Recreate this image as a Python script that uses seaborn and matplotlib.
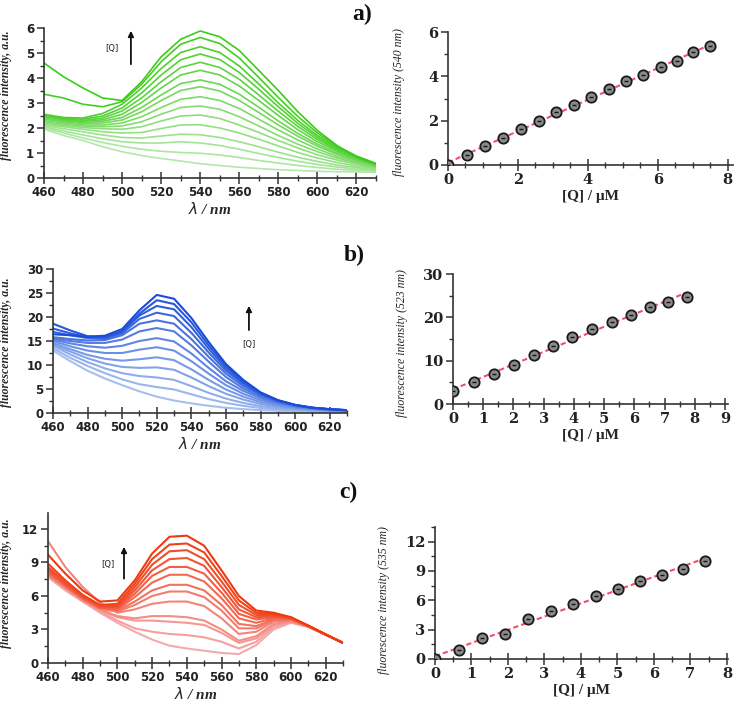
import matplotlib
matplotlib.use("Agg")
import matplotlib.pyplot as plt
from matplotlib.ticker import MultipleLocator
from matplotlib.colors import to_rgb
import seaborn as sns
import pandas as pd
import numpy as np

# wavelength grid (nm) shared by all spectra
wl = [460, 470, 480, 490, 500, 510, 520, 530, 540, 550, 560, 570, 580, 590, 600, 610, 620, 630]

# a) green spectra, highest [Q] first
green_spectra = [
    [4.60, 4.05, 3.60, 3.20, 3.10, 3.85, 4.85, 5.55, 5.88, 5.65, 5.10, 4.30, 3.50, 2.65, 1.90, 1.30, 0.85, 0.55],
    [3.35, 3.20, 2.95, 2.85, 3.05, 3.75, 4.65, 5.35, 5.62, 5.38, 4.80, 4.02, 3.22, 2.46, 1.80, 1.27, 0.88, 0.58],
    [2.55, 2.42, 2.40, 2.58, 2.95, 3.60, 4.38, 5.02, 5.25, 5.02, 4.48, 3.76, 3.00, 2.30, 1.70, 1.22, 0.86, 0.58],
    [2.50, 2.38, 2.35, 2.48, 2.80, 3.40, 4.12, 4.73, 4.96, 4.74, 4.22, 3.55, 2.85, 2.18, 1.62, 1.17, 0.83, 0.56],
    [2.48, 2.35, 2.30, 2.40, 2.68, 3.20, 3.85, 4.42, 4.63, 4.42, 3.95, 3.32, 2.67, 2.06, 1.54, 1.12, 0.80, 0.54],
    [2.45, 2.32, 2.27, 2.33, 2.55, 3.02, 3.60, 4.12, 4.31, 4.12, 3.68, 3.10, 2.50, 1.93, 1.45, 1.07, 0.77, 0.52],
    [2.40, 2.28, 2.22, 2.27, 2.42, 2.82, 3.32, 3.78, 3.92, 3.75, 3.35, 2.83, 2.28, 1.78, 1.35, 1.00, 0.73, 0.50],
    [2.35, 2.25, 2.18, 2.20, 2.32, 2.65, 3.10, 3.50, 3.65, 3.48, 3.10, 2.62, 2.12, 1.67, 1.27, 0.95, 0.70, 0.48],
    [2.30, 2.20, 2.12, 2.12, 2.20, 2.45, 2.82, 3.15, 3.25, 3.10, 2.78, 2.35, 1.92, 1.52, 1.16, 0.87, 0.65, 0.46],
    [2.25, 2.15, 2.08, 2.05, 2.08, 2.25, 2.55, 2.82, 2.88, 2.75, 2.45, 2.08, 1.70, 1.35, 1.05, 0.80, 0.60, 0.43],
    [2.20, 2.10, 2.02, 1.97, 1.95, 2.05, 2.28, 2.48, 2.52, 2.38, 2.12, 1.82, 1.50, 1.20, 0.93, 0.72, 0.55, 0.40],
    [2.15, 2.05, 1.95, 1.85, 1.80, 1.82, 1.98, 2.12, 2.13, 2.00, 1.80, 1.55, 1.28, 1.02, 0.80, 0.62, 0.48, 0.37],
    [2.10, 1.97, 1.85, 1.72, 1.62, 1.60, 1.68, 1.75, 1.73, 1.62, 1.45, 1.25, 1.03, 0.83, 0.66, 0.52, 0.42, 0.33],
    [2.05, 1.88, 1.72, 1.57, 1.45, 1.40, 1.40, 1.45, 1.40, 1.30, 1.15, 0.98, 0.82, 0.67, 0.54, 0.44, 0.36, 0.30],
    [2.00, 1.80, 1.60, 1.42, 1.27, 1.15, 1.07, 1.02, 0.99, 0.92, 0.82, 0.70, 0.60, 0.50, 0.42, 0.35, 0.30, 0.27],
    [1.95, 1.70, 1.50, 1.25, 1.05, 0.90, 0.78, 0.68, 0.57, 0.50, 0.43, 0.38, 0.33, 0.30, 0.27, 0.25, 0.24, 0.23],
]

# b) blue spectra
blue_spectra = [
    [16.4, 16.2, 15.9, 16.1, 17.5, 21.4, 24.6, 23.8, 19.8, 14.8, 10.2, 6.9, 4.3, 2.70, 1.70, 1.10, 0.80, 0.60],
    [18.6, 17.2, 16.0, 15.8, 17.1, 20.7, 23.5, 22.7, 18.9, 14.1, 9.8, 6.6, 4.2, 2.62, 1.68, 1.10, 0.79, 0.59],
    [17.6, 16.6, 15.8, 15.7, 16.9, 20.3, 22.3, 21.6, 17.9, 13.4, 9.3, 6.3, 4.0, 2.55, 1.65, 1.10, 0.78, 0.58],
    [16.9, 16.2, 15.6, 15.5, 16.6, 19.6, 20.9, 20.2, 16.7, 12.6, 8.8, 6.0, 3.9, 2.50, 1.60, 1.08, 0.77, 0.57],
    [15.8, 15.4, 15.1, 15.2, 16.2, 18.6, 19.3, 18.6, 15.4, 11.7, 8.2, 5.6, 3.7, 2.40, 1.55, 1.05, 0.75, 0.55],
    [15.5, 15.0, 14.6, 14.6, 15.3, 17.0, 17.7, 17.0, 14.1, 10.7, 7.5, 5.1, 3.4, 2.20, 1.45, 1.00, 0.72, 0.53],
    [15.3, 14.5, 13.9, 13.6, 14.0, 15.0, 15.6, 14.9, 12.4, 9.4, 6.6, 4.6, 3.1, 2.00, 1.35, 0.92, 0.67, 0.50],
    [15.0, 13.9, 13.0, 12.5, 12.5, 13.2, 13.7, 13.0, 10.8, 8.2, 5.8, 4.0, 2.7, 1.80, 1.20, 0.85, 0.62, 0.47],
    [14.6, 13.3, 12.1, 11.3, 10.9, 11.2, 11.6, 11.0, 9.1, 6.9, 4.9, 3.4, 2.3, 1.55, 1.05, 0.75, 0.55, 0.42],
    [14.3, 12.8, 11.4, 10.3, 9.6, 9.4, 9.5, 9.0, 7.4, 5.6, 4.0, 2.8, 1.9, 1.30, 0.90, 0.65, 0.48, 0.38],
    [14.0, 12.2, 10.6, 9.3, 8.3, 7.7, 7.4, 6.9, 5.6, 4.2, 3.0, 2.1, 1.45, 1.00, 0.72, 0.53, 0.40, 0.32],
    [13.5, 11.5, 9.8, 8.3, 7.0, 6.0, 5.4, 4.9, 3.9, 2.9, 2.1, 1.5, 1.05, 0.75, 0.55, 0.42, 0.33, 0.27],
    [13.0, 10.8, 8.8, 7.2, 5.8, 4.5, 3.4, 2.6, 2.0, 1.5, 1.1, 0.8, 0.60, 0.45, 0.35, 0.30, 0.25, 0.20],
]

# c) red spectra
red_spectra = [
    [9.70, 8.00, 6.50, 5.50, 5.60, 7.40, 9.80, 11.3, 11.4, 10.5, 8.30, 6.00, 4.70, 4.50, 4.10, 3.35, 2.55, 1.80],
    [8.90, 7.40, 6.10, 5.20, 5.30, 7.10, 9.30, 10.6, 10.7, 9.90, 7.80, 5.60, 4.50, 4.40, 4.08, 3.34, 2.55, 1.80],
    [8.60, 7.20, 6.00, 5.10, 5.10, 6.80, 8.80, 10.0, 10.1, 9.30, 7.30, 5.20, 4.30, 4.30, 4.05, 3.33, 2.55, 1.80],
    [8.40, 7.05, 5.90, 5.00, 5.00, 6.50, 8.30, 9.30, 9.40, 8.70, 6.80, 4.80, 4.10, 4.20, 4.00, 3.32, 2.55, 1.80],
    [8.25, 7.00, 5.85, 5.00, 4.90, 6.20, 7.80, 8.60, 8.60, 8.00, 6.30, 4.40, 3.90, 4.10, 4.00, 3.31, 2.55, 1.80],
    [8.15, 6.95, 5.80, 4.95, 4.80, 5.90, 7.20, 7.90, 7.90, 7.30, 5.80, 4.00, 3.60, 4.00, 3.95, 3.30, 2.55, 1.80],
    [8.05, 6.90, 5.75, 4.90, 4.70, 5.50, 6.50, 7.00, 7.00, 6.50, 5.20, 3.50, 3.30, 3.90, 3.90, 3.29, 2.55, 1.80],
    [7.95, 6.80, 5.70, 4.85, 4.60, 5.20, 6.00, 6.40, 6.40, 5.90, 4.70, 3.10, 3.10, 3.80, 3.85, 3.28, 2.55, 1.80],
    [10.9, 8.60, 6.80, 5.40, 4.50, 4.80, 5.30, 5.50, 5.50, 5.10, 4.00, 2.60, 2.80, 3.70, 3.80, 3.27, 2.55, 1.80],
    [7.85, 6.75, 5.65, 4.80, 4.20, 4.00, 4.20, 4.20, 4.10, 3.80, 3.00, 2.00, 2.40, 3.50, 3.75, 3.26, 2.55, 1.80],
    [7.80, 6.70, 5.60, 4.70, 4.10, 3.80, 3.80, 3.70, 3.60, 3.40, 2.70, 1.80, 2.20, 3.40, 3.70, 3.25, 2.55, 1.80],
    [7.75, 6.60, 5.55, 4.60, 3.80, 3.10, 2.80, 2.60, 2.50, 2.30, 1.90, 1.30, 1.90, 3.20, 3.65, 3.24, 2.55, 1.80],
    [7.70, 6.50, 5.50, 4.50, 3.60, 2.80, 2.10, 1.55, 1.30, 1.10, 0.90, 0.80, 1.60, 3.00, 3.60, 3.23, 2.55, 1.80],
]

# titration points, intensity at the peak vs [Q]
q_a = [0, 0.54, 1.06, 1.57, 2.09, 2.60, 3.10, 3.60, 4.08, 4.59, 5.09, 5.59, 6.08, 6.55, 7.01, 7.50]
i_a = [0, 0.45, 0.86, 1.24, 1.61, 1.99, 2.37, 2.70, 3.06, 3.42, 3.77, 4.07, 4.40, 4.70, 5.08, 5.35]
q_b = [0, 0.70, 1.35, 2.01, 2.67, 3.31, 3.95, 4.59, 5.25, 5.89, 6.51, 7.13, 7.73]
i_b = [3.0, 5.0, 7.0, 9.0, 11.2, 13.4, 15.4, 17.4, 19.0, 20.5, 22.3, 23.6, 24.8]
q_c = [0, 0.66, 1.30, 1.93, 2.55, 3.17, 3.79, 4.41, 5.02, 5.62, 6.21, 6.81, 7.40]
i_c = [0, 0.95, 2.14, 2.59, 4.08, 4.93, 5.61, 6.46, 7.21, 7.93, 8.61, 9.25, 10.07]

SERIF = "Liberation Serif"


def gradient(dark, light, n):
    d, l = np.array(to_rgb(dark)), np.array(to_rgb(light))
    return [tuple(d + (l - d) * k / (n - 1)) for k in range(n)]


def spectra_frame(curves):
    rows = []
    for k, curve in enumerate(curves):
        for w, v in zip(wl, curve):
            rows.append({"wl": w, "I": v, "curve": k})
    return pd.DataFrame(rows)


sns.set_style("white")
plt.rcParams["axes.linewidth"] = 1.2
fig = plt.figure(figsize=(7.36, 7.02), dpi=100)

W, H = 736, 702


def axes_px(x0, x1, ytop, ybot):
    return fig.add_axes([x0 / W, (H - ybot) / H, (x1 - x0) / W, (ybot - ytop) / H])


def style_axes(ax, left_panel):
    sns.despine(ax=ax)
    for s in ("left", "bottom"):
        ax.spines[s].set_color("#333333")
    ax.tick_params(axis="y", which="major", direction="out", length=5, width=1.1, color="#333333", pad=2)
    ax.tick_params(axis="y", which="minor", direction="out", length=3, width=1.0, color="#333333")
    ax.tick_params(axis="x", which="major", direction="inout", length=8, width=1.1, color="#333333", pad=2)
    ax.tick_params(axis="x", which="minor", direction="inout", length=5, width=1.0, color="#333333")
    ax.tick_params(which="both", left=True, bottom=True)
    if left_panel:
        for lab in ax.get_xticklabels() + ax.get_yticklabels():
            lab.set_fontfamily("DejaVu Sans")
            lab.set_fontweight("bold")
            lab.set_fontsize(8.5)
            lab.set_color("#222222")
    else:
        for lab in ax.get_xticklabels() + ax.get_yticklabels():
            lab.set_fontfamily("DejaVu Serif")
            lab.set_fontweight("bold")
            lab.set_fontsize(10.5)
            lab.set_color("#222222")


def spectra_panel(ax, curves, dark, light, ylim, ymaj, ymin, arrow, qpos, lw):
    df = spectra_frame(curves)
    cols = gradient(dark, light, len(curves))
    order = list(range(len(curves)))[::-1]
    sns.lineplot(data=df, x="wl", y="I", hue="curve", hue_order=order,
                 palette={k: cols[k] for k in order}, legend=False, ax=ax,
                 linewidth=lw, estimator=None)
    ax.set_xlim(460, 630)
    ax.set_ylim(*ylim)
    ax.xaxis.set_major_locator(MultipleLocator(20))
    ax.xaxis.set_minor_locator(MultipleLocator(10))
    ax.yaxis.set_major_locator(MultipleLocator(ymaj))
    ax.yaxis.set_minor_locator(MultipleLocator(ymin))
    ax.set_xlabel(r"$\lambda$ / nm", fontsize=11, fontstyle="italic",
                  fontweight="bold", family=SERIF, labelpad=1)
    ax.set_ylabel("fluorescence intensity, a.u.", fontsize=8.5, fontstyle="italic",
                  fontweight="bold", family=SERIF)
    ax.annotate("", xy=(arrow[0], arrow[2]), xytext=(arrow[0], arrow[1]),
                arrowprops=dict(arrowstyle="-|>", color="#111111", lw=1.3, mutation_scale=8))
    ax.text(qpos[0], qpos[1], "[Q]", fontsize=6, ha="center", va="center", color="#222222")
    style_axes(ax, True)


def titration_panel(ax, q, i, xlim, xmaj, ylim, ymaj, ymin, ylabel):
    pts = pd.DataFrame({"Q": q, "I": i})
    sns.regplot(data=pts, x="Q", y="I", ax=ax, scatter=False, ci=None,
                line_kws=dict(color="#f0506e", lw=1.5, ls=(0, (2.5, 1.5))))
    sns.scatterplot(data=pts, x="Q", y="I", ax=ax, s=55, color="#8a8a8a",
                    edgecolor="#1a1a1a", linewidth=1.3, zorder=3)
    sns.scatterplot(data=pts, x="Q", y="I", ax=ax, s=10, marker="_", color="#111111",
                    linewidth=1.0, zorder=4)
    ax.set_xlim(*xlim)
    ax.set_ylim(*ylim)
    ax.xaxis.set_major_locator(MultipleLocator(xmaj))
    ax.xaxis.set_minor_locator(MultipleLocator(0.5))
    ax.yaxis.set_major_locator(MultipleLocator(ymaj))
    ax.yaxis.set_minor_locator(MultipleLocator(ymin))
    ax.set_xlabel("[Q] / \u03bcM", fontsize=11, fontweight="bold", family=SERIF, labelpad=2)
    ax.set_ylabel(ylabel, fontsize=8.5, fontstyle="italic", family=SERIF)
    style_axes(ax, False)


# a)
ax = axes_px(44, 376, 28, 178)
spectra_panel(ax, green_spectra, "#3ccc18", "#b4e8aa", (0, 6), 1, 0.5,
              (504.5, 4.44, 6.0), (494.8, 5.16), 1.2)
ax.yaxis.set_label_coords(-0.097, 0.55)
ax = axes_px(448, 733, 32, 165)
titration_panel(ax, q_a, i_a, (0, 8.15), 2, (0, 6), 2, 1, "fluorescence intensity (540 nm)")
ax.yaxis.set_label_coords(-0.151, 0.47)

# b)
ax = axes_px(53, 347, 269, 413)
spectra_panel(ax, blue_spectra, "#1a4cd8", "#a6c0ee", (0, 30), 5, 2.5,
              (573.3, 16.7, 22.9), (573.3, 14.2), 1.5)
ax.yaxis.set_label_coords(-0.141, 0.49)
ax = axes_px(453, 728, 274, 404)
titration_panel(ax, q_b, i_b, (0, 9.1), 1, (0, 30), 10, 5, "fluorescence intensity (523 nm)")
ax.yaxis.set_label_coords(-0.164, 0.47)

# c)
ax = axes_px(48, 343, 513, 663)
spectra_panel(ax, red_spectra, "#ef3a10", "#f6a9ad", (0, 13.43), 3, 1.5,
              (503.8, 7.3, 10.65), (494.6, 8.86), 1.5)
ax.yaxis.set_label_coords(-0.123, 0.53)
ax = axes_px(435, 728, 527, 659)
titration_panel(ax, q_c, i_c, (0, 8.03), 1, (0, 13.5), 3, 1.5, "fluorescence intensity (535 nm)")
ax.yaxis.set_label_coords(-0.154, 0.45)

for lab, x, y in [("a)", 362, 14), ("b)", 354, 255), ("c)", 348, 492)]:
    fig.text(x / W, 1 - y / H, lab, fontsize=17, fontweight="bold", family=SERIF,
             ha="center", va="center", color="#111111")

fig.savefig("out.png", dpi=100)
